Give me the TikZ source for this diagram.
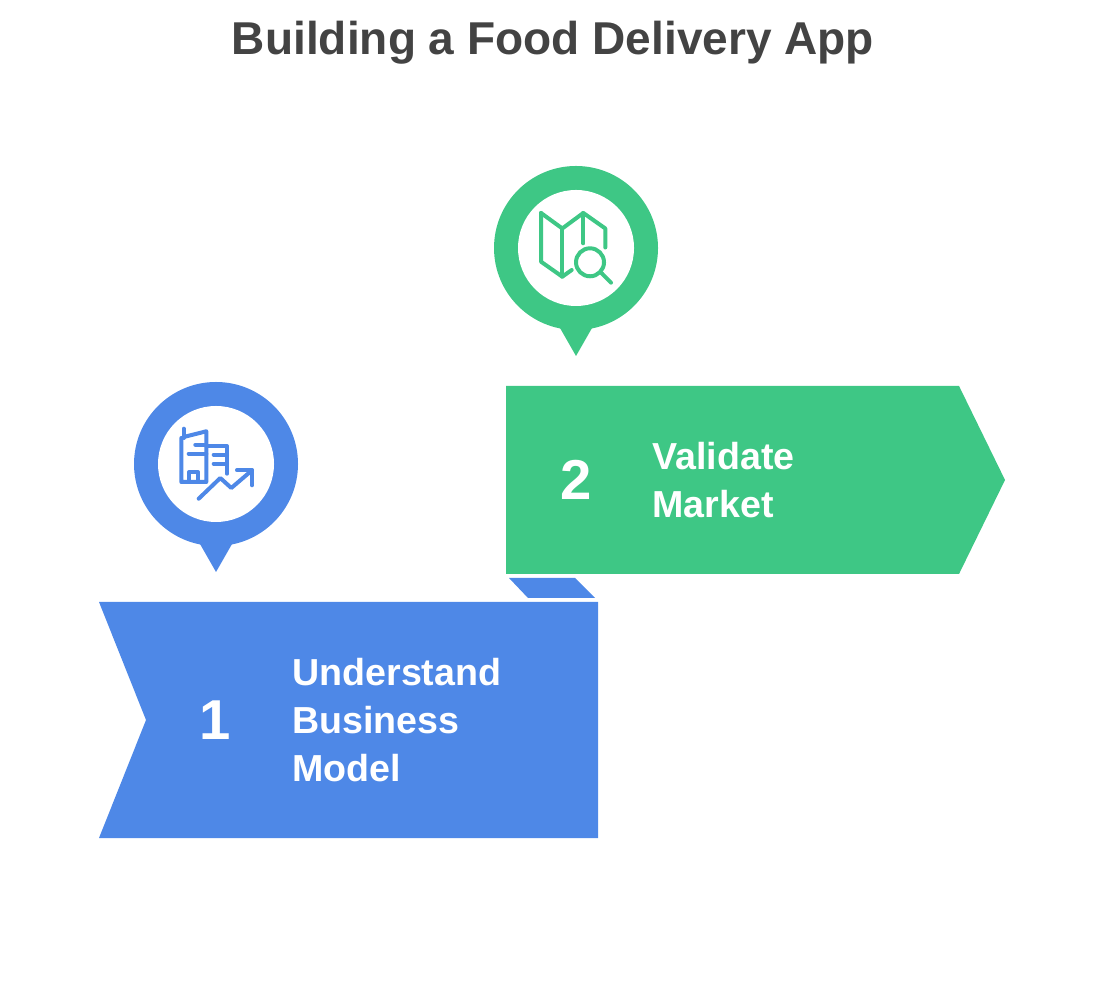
\documentclass[tikz,border=0pt]{standalone}
\usepackage{fontspec}
\setmainfont{Liberation Sans}
\definecolor{stepblue}{HTML}{4E88E7}
\definecolor{stepgreen}{HTML}{3EC785}
\definecolor{titlegray}{HTML}{434343}
\tikzset{
  steptext/.style={text=white, font=\bfseries\fontsize{10.7}{13.6}\selectfont, align=left, anchor=west},
  stepnum/.style={text=white, font=\bfseries\fontsize{16}{19}\selectfont},
  iconline/.style={line width=0.04cm, line cap=round, line join=round}
}
\begin{document}
\begin{tikzpicture}
    \useasboundingbox (0,0) rectangle (11.04,9.85);
    % Title
    \node[text=titlegray, font=\bfseries\fontsize{13.1}{16}\selectfont] (title) at (5.53,9.42) {Building a Food Delivery App};

    % Step 2
    \fill[stepgreen] (5.06,5.99) -- (9.59,5.99) -- (10.05,5.05) -- (9.59,4.11) -- (5.06,4.11) -- cycle;
    \node[stepnum] (num2) at (5.76,5.05) {2};
    \node[steptext] (label2) at (6.40,5.05) {Validate\\Market};

    % Fold
    \fill[stepblue] (5.09,4.07) -- (5.75,4.07) -- (5.95,3.87) -- (5.28,3.87) -- cycle;

    % Step 1
    \fill[stepblue] (0.99,3.83) -- (5.98,3.83) -- (5.98,1.47) -- (0.99,1.47) -- (1.46,2.65) -- cycle;
    \node[stepnum] (num1) at (2.15,2.65) {1};
    \node[steptext] (label1) at (2.80,2.65) {Understand\\Business\\Model};

    % Pin 2
    \fill[stepgreen] (5.76,7.37) circle (0.82);
    \fill[stepgreen] (5.60,6.57) -- (5.76,6.29) -- (5.92,6.57) -- cycle;
    \fill[white] (5.76,7.37) circle (0.58);
    % Map icon
    \draw[stepgreen, iconline] (5.41,7.72) -- (5.623,7.565) -- (5.833,7.72) -- (6.053,7.565) -- (6.053,7.375);
    \draw[stepgreen, iconline] (5.41,7.72) -- (5.41,7.233) -- (5.623,7.083) -- (5.717,7.15);
    \draw[stepgreen, iconline] (5.623,7.565) -- (5.623,7.083);
    \draw[stepgreen, iconline] (5.833,7.72) -- (5.833,7.417);
    \draw[stepgreen, iconline] (5.90,7.227) circle (0.14);
    \draw[stepgreen, iconline] (6.017,7.117) -- (6.11,7.023);

    % Pin 1
    \fill[stepblue] (2.16,5.21) circle (0.82);
    \fill[stepblue] (2.00,4.41) -- (2.16,4.13) -- (2.32,4.41) -- cycle;
    \fill[white] (2.16,5.21) circle (0.58);
    % Building icon
    \draw[stepblue, iconline] (1.837,5.563) -- (1.837,5.47);
    \draw[stepblue, iconline] (1.813,5.47) -- (1.813,5.03) -- (2.063,5.03) -- (2.063,5.537) -- (1.837,5.48);
    \draw[stepblue, iconline] (1.953,5.403) -- (2.063,5.403);
    \draw[stepblue, iconline] (1.887,5.313) -- (2.063,5.313);
    \draw[stepblue, iconline] (2.063,5.39) -- (2.27,5.39) -- (2.27,5.113);
    \draw[stepblue, iconline] (2.137,5.303) -- (2.27,5.303);
    \draw[stepblue, iconline] (2.137,5.213) -- (2.27,5.213);
    \draw[stepblue, iconline] (1.893,5.03) -- (1.893,5.13) -- (1.98,5.13) -- (1.98,5.03);
    \draw[stepblue, iconline] (1.987,4.863) -- (2.203,5.07) -- (2.313,4.97) -- (2.52,5.147);
    \draw[stepblue, iconline] (2.37,5.147) -- (2.52,5.147) -- (2.52,4.997);
\end{tikzpicture}
\end{document}
